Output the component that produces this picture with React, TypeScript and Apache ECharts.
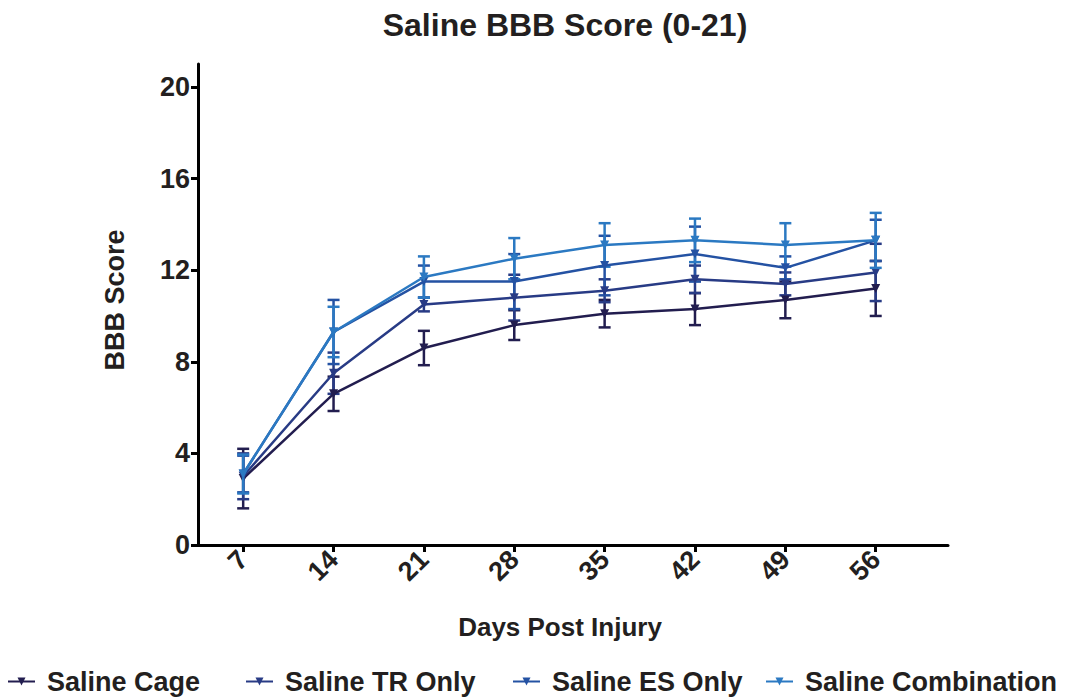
import React, { useEffect, useRef } from "react";
import * as echarts from "echarts";

const days = [7, 14, 21, 28, 35, 42, 49, 56];
const seriesNames = ["Saline Cage", "Saline TR Only", "Saline ES Only", "Saline Combination"];
const cage = [2.9, 6.6, 8.6, 9.6, 10.1, 10.3, 10.7, 11.2];
const cageErr = [1.3, 0.75, 0.75, 0.65, 0.6, 0.7, 0.8, 1.2];
const trOnly = [3.0, 7.5, 10.5, 10.8, 11.1, 11.6, 11.4, 11.9];
const trOnlyErr = [1.0, 0.9, 0.3, 1.0, 0.5, 0.6, 0.5, 1.25];
const esOnly = [3.1, 9.3, 11.5, 11.5, 12.2, 12.7, 12.1, 13.3];
const esOnlyErr = [0.8, 1.4, 0.7, 1.2, 1.3, 1.2, 0.5, 0.9];
const combination = [3.1, 9.3, 11.7, 12.5, 13.1, 13.3, 13.1, 13.3];
const combinationErr = [0.85, 1.1, 0.9, 0.9, 0.95, 0.95, 0.95, 1.2];
const yTicks = [0, 4, 8, 12, 16, 20];
const colors = ["#221d4f", "#283b85", "#2452a3", "#2b79c2"];

const FONT = "'Liberation Sans', Arial, sans-serif";
const legendLefts = [7, 245, 512, 765];

export default function App() {
  const ref = useRef<HTMLDivElement>(null);
  useEffect(() => {
    if (!ref.current) return;
    const chart = echarts.init(ref.current, null, { renderer: "svg" });
    const means = [cage, trOnly, esOnly, combination];
    const errs = [cageErr, trOnlyErr, esOnlyErr, combinationErr];
    const lineSeries: any[] = means.map((m, i) => ({
      name: seriesNames[i],
      type: "line",
      data: days.map((d, j) => [d, m[j]]),
      symbol: "triangle",
      symbolRotate: 180,
      symbolSize: 9,
      color: colors[i],
      lineStyle: { width: 2.5, color: colors[i] },
      itemStyle: { color: colors[i] },
      z: 3 + i,
    }));
    const errSeries: any[] = means.map((m, i) => ({
      id: "err" + i,
      type: "custom",
      color: colors[i],
      data: days.map((d, j) => [d, m[j] - errs[i][j], m[j] + errs[i][j]]),
      renderItem: (params: any, api: any) => {
        const lo = api.coord([api.value(0), api.value(1)]);
        const hi = api.coord([api.value(0), api.value(2)]);
        const hw = 6;
        const st = { stroke: colors[i], lineWidth: 2.5 };
        return {
          type: "group",
          children: [
            { type: "line", shape: { x1: lo[0], y1: lo[1], x2: hi[0], y2: hi[1] }, style: st },
            { type: "line", shape: { x1: lo[0] - hw, y1: lo[1], x2: lo[0] + hw, y2: lo[1] }, style: st },
            { type: "line", shape: { x1: hi[0] - hw, y1: hi[1], x2: hi[0] + hw, y2: hi[1] }, style: st },
          ],
        };
      },
      z: 2 + i,
    }));

    const legends = seriesNames.map((n, i) => ({
      data: [n],
      left: legendLefts[i],
      top: 668,
      padding: 0,
      itemWidth: 27,
      itemHeight: 10,
      textStyle: {
        fontFamily: FONT,
        fontWeight: "bold",
        fontSize: 27,
        color: "#231f20",
        padding: [0, 0, 0, 7],
      },
    }));

    chart.setOption({
      animation: false,
      backgroundColor: "#ffffff",
      title: {
        text: "Saline BBB Score (0-21)",
        left: 560,
        textAlign: "center",
        top: 4,
        textStyle: { fontFamily: FONT, fontWeight: "bold", fontSize: 32, color: "#231f20" },
      },
      legend: legends,
      grid: { left: 198, right: 125, top: 64, bottom: 155, containLabel: false },
      xAxis: {
        type: "value",
        min: 3.5,
        max: 61.6,
        axisLine: { show: true, lineStyle: { color: "#000", width: 3 } },
        axisTick: { show: true, length: 7, lineStyle: { color: "#000", width: 3 }, customValues: days },
        axisLabel: {
          customValues: days,
          rotate: 45,
          margin: 10,
          fontFamily: FONT,
          fontWeight: "bold",
          fontSize: 27,
          color: "#231f20",
        },
        splitLine: { show: false },
      },
      yAxis: {
        type: "value",
        min: 0,
        max: 21,
        axisLine: { show: true, lineStyle: { color: "#000", width: 3 } },
        axisTick: { show: true, length: 7, lineStyle: { color: "#000", width: 3 }, customValues: yTicks },
        axisLabel: {
          customValues: yTicks,
          margin: 8,
          fontFamily: FONT,
          fontWeight: "bold",
          fontSize: 27,
          color: "#231f20",
        },
        splitLine: { show: false },
      },
      graphic: [
        {
          type: "text",
          x: 560,
          y: 627,
          style: {
            text: "Days Post Injury",
            fill: "#231f20",
            font: `bold 26px ${FONT}`,
            align: "center",
            verticalAlign: "middle",
          },
        },
        {
          type: "text",
          x: 115,
          y: 300,
          rotation: Math.PI / 2,
          style: {
            text: "BBB Score",
            fill: "#231f20",
            font: `bold 27px ${FONT}`,
            align: "center",
            verticalAlign: "middle",
          },
        },
      ],
      series: [...lineSeries, ...errSeries],
    });
    return () => chart.dispose();
  }, []);
  return (
    <div
      ref={ref}
      style={{ position: "fixed", left: 0, top: 0, width: 1073, height: 700, background: "#fff" }}
    />
  );
}
